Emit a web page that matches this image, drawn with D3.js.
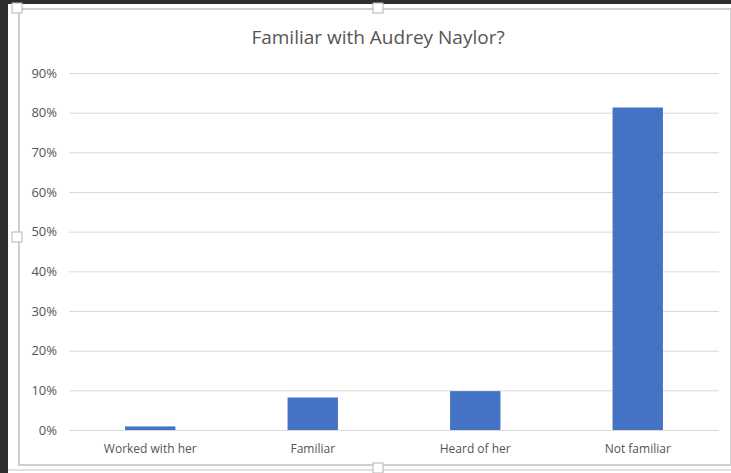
<!DOCTYPE html>
<html>
<head>
<meta charset="utf-8">
<script src="https://cdn.jsdelivr.net/npm/d3@7"></script>
<style>
  html, body { margin: 0; padding: 0; background: #2e2e2e; }
  svg { display: block; }
</style>
</head>
<body>
<svg id="chart" width="731" height="473"></svg>
<script>
// data
const categories = ["Worked with her", "Familiar", "Heard of her", "Not familiar"];
const shares = [0.009, 0.082, 0.098, 0.813];
const yTicks = [0, 0.1, 0.2, 0.3, 0.4, 0.5, 0.6, 0.7, 0.8, 0.9];
const title = "Familiar with Audrey Naylor?";

const svg = d3.select("#chart");

// sheet + chart frame
svg.append("rect").attr("x", 8).attr("y", 4).attr("width", 723).attr("height", 469).attr("fill", "#ffffff");
svg.append("rect").attr("x", 19).attr("y", 9).attr("width", 712).attr("height", 456)
  .attr("fill", "#ffffff").attr("stroke", "#cfcfcf").attr("stroke-width", 2);
svg.append("line").attr("x1", 8).attr("x2", 731).attr("y1", 470).attr("y2", 470)
  .attr("stroke", "#d6d6d6").attr("stroke-width", 1.5);

const handles = [[17, 8], [378, 8], [17, 237], [378, 468]];
svg.selectAll("rect.handle")
  .data(handles)
  .enter().append("rect")
  .attr("class", "handle")
  .attr("x", d => d[0] - 5).attr("y", d => d[1] - 5)
  .attr("width", 10).attr("height", 10)
  .attr("fill", "#ffffff").attr("stroke", "#b5b5b5");

const margin = { top: 73, right: 12, bottom: 43, left: 69 };
const width = 719 - margin.left;
const height = 430 - margin.top;

const g = svg.append("g")
  .attr("transform", `translate(${margin.left},${margin.top})`);

const x = d3.scaleBand()
  .domain(categories)
  .range([0, width])
  .paddingInner(0.69)
  .paddingOuter(0.345);

const y = d3.scaleLinear()
  .domain([0, 0.9])
  .range([height, 0]);

// gridlines + y labels
const yAxis = g.append("g")
  .call(d3.axisLeft(y).tickValues(yTicks).tickSize(-width).tickPadding(12).tickFormat(d3.format(".0%")));
yAxis.select(".domain").remove();
yAxis.selectAll(".tick line").attr("stroke", "#d9d9d9").attr("stroke-width", 1);
yAxis.selectAll(".tick text")
  .attr("fill", "#555555")
  .style("font-family", "'Open Sans', sans-serif")
  .style("font-size", "13px");

// bars
g.selectAll("rect.bar")
  .data(categories)
  .enter().append("rect")
  .attr("class", "bar")
  .attr("x", d => x(d))
  .attr("y", (d, i) => y(shares[i]))
  .attr("width", x.bandwidth())
  .attr("height", (d, i) => height - y(shares[i]))
  .attr("fill", "#4472c4");

// x labels
const xAxis = g.append("g")
  .attr("transform", `translate(0,${height})`)
  .call(d3.axisBottom(x).tickSize(0).tickPadding(14));
xAxis.select(".domain").remove();
xAxis.selectAll(".tick text")
  .attr("fill", "#555555")
  .style("font-family", "'Open Sans', sans-serif")
  .style("font-size", "12px");

svg.append("text")
  .text(title)
  .attr("x", 378)
  .attr("y", 44)
  .attr("text-anchor", "middle")
  .attr("fill", "#555555")
  .style("font-family", "'Open Sans', sans-serif")
  .style("font-size", "19px");
</script>
</body>
</html>
